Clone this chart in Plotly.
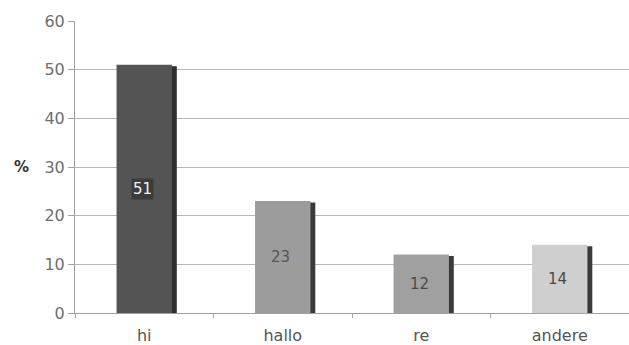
import plotly.graph_objects as go

categories = ["hi", "hallo", "re", "andere"]
values = [51, 23, 12, 14]
bar_colors = ["#545454", "#9c9c9c", "#a0a0a0", "#cfcfcf"]
shadow_colors = ["#2e2e2e", "#3a3a3a", "#3a3a3a", "#3a3a3a"]
label_colors = ["#f2f2f2", "#555555", "#4a4a4a", "#4a4a4a"]
y_ticks = [0, 10, 20, 30, 40, 50, 60]

fig = go.Figure()
fig.add_trace(go.Bar(
    x=categories, y=[v - 0.3 for v in values],
    width=0.4, offset=-0.2 + 0.035,
    marker=dict(color=shadow_colors, line=dict(width=0)),
    hoverinfo="skip", showlegend=False,
))
fig.add_trace(go.Bar(
    x=categories, y=values,
    width=0.4, offset=-0.2,
    marker=dict(color=bar_colors, line=dict(width=0)),
    showlegend=False,
))

for i, (c, v) in enumerate(zip(categories, values)):
    fig.add_annotation(
        x=c, y=v / 2, text=str(v), showarrow=False,
        xshift=-2,
        font=dict(family="DejaVu Sans", size=15, color=label_colors[i]),
        bgcolor="#3c3c3c" if i == 0 else "rgba(0,0,0,0)",
        borderpad=1,
    )

fig.add_annotation(
    x=-0.02, y=0.5, xref="paper", yref="paper", xanchor="right",
    text="<b>%</b>", showarrow=False, xshift=-33,
    font=dict(family="DejaVu Sans", size=15, color="#333333"),
)

fig.update_layout(
    width=629, height=345,
    margin=dict(l=75, r=0, t=21, b=32),
    paper_bgcolor="white", plot_bgcolor="white",
    barmode="overlay",
    font=dict(family="DejaVu Sans", size=16, color="#6e6e6e"),
)
fig.update_yaxes(
    range=[0, 60], tickvals=y_ticks,
    showgrid=True, gridcolor="#b8b8b8", gridwidth=1,
    showline=True, linecolor="#a0a0a0", linewidth=1,
    ticks="outside", ticklen=6, tickcolor="#a0a0a0",
    zeroline=False, automargin=False,
)
fig.update_xaxes(
    showline=True, linecolor="#a0a0a0", linewidth=1,
    ticks="outside", ticklen=4, tickcolor="#a0a0a0",
    tickson="boundaries",
    ticklabelstandoff=8,
    tickfont=dict(size=16, color="#555555"),
    range=[-0.5, 3.5], automargin=False,
)

fig.write_html("out.html")
